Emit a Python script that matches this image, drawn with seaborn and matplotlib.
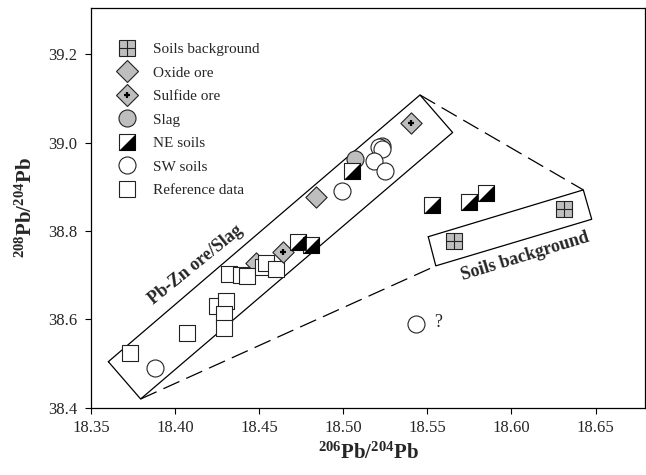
import numpy as np
import matplotlib
matplotlib.use('Agg')
import matplotlib.pyplot as plt
from matplotlib.lines import Line2D
from matplotlib.legend_handler import HandlerTuple
import seaborn as sns

# data
soil_bg_x = [18.566, 18.631]
soil_bg_y = [38.777, 38.850]

oxide_x = [18.484, 18.448]
oxide_y = [38.878, 38.728]

sulfide_x = [18.540, 18.464]
sulfide_y = [39.044, 38.752]

slag_x = [18.507, 18.523]
slag_y = [38.963, 38.992]

ne_x = [18.505, 18.473, 18.481, 18.553, 18.575, 18.585]
ne_y = [38.936, 38.774, 38.768, 38.859, 38.865, 38.885]

sw_x = [18.521, 18.523, 18.518, 18.525, 18.499, 18.388, 18.543]
sw_y = [38.990, 38.985, 38.959, 38.936, 38.890, 38.490, 38.589]

ref_x = [18.373, 18.407, 18.425, 18.430, 18.429, 18.429, 18.432, 18.439,
         18.443, 18.452, 18.454, 18.460]
ref_y = [38.524, 38.568, 38.631, 38.641, 38.612, 38.580, 38.702, 38.700,
         38.698, 38.719, 38.728, 38.713]

# outlines of the two fields
pbzn_box_x = [18.3603, 18.5456, 18.5650, 18.3795, 18.3603]
pbzn_box_y = [38.504, 39.108, 39.023, 38.4195, 38.504]
soil_box_x = [18.5505, 18.6427, 18.6477, 18.5550, 18.5505]
soil_box_y = [38.787, 38.893, 38.8265, 38.721, 38.787]
dash_top_x = [18.5456, 18.6427]
dash_top_y = [39.108, 38.893]
dash_bot_x = [18.3795, 18.5550]
dash_bot_y = [38.4195, 38.721]

xticks = [18.35, 18.40, 18.45, 18.50, 18.55, 18.60, 18.65]
yticks = [38.4, 38.6, 38.8, 39.0, 39.2]

sns.set_style('ticks')
plt.rcParams['font.family'] = ['Liberation Serif', 'DejaVu Serif']
plt.rcParams['mathtext.fontset'] = 'custom'
plt.rcParams['mathtext.rm'] = 'Liberation Serif'
plt.rcParams['mathtext.bf'] = 'Liberation Serif:bold'

GREY = '#bebebe'
EDGE = '#222222'
S_SQ = 117
S_CI = 150
tri = [(-1, -1), (1, -1), (1, 1)]
DASH = (0, (14, 6))

fig = plt.figure(figsize=(6.46, 4.75), dpi=100)
ax = fig.add_axes([0.1409, 0.1419, 0.8576, 0.8413])

ax.plot(pbzn_box_x, pbzn_box_y, color='black', lw=0.9, zorder=1)
ax.plot(soil_box_x, soil_box_y, color='black', lw=0.9, zorder=1)
ax.plot(dash_top_x, dash_top_y, color='black', lw=0.9, ls=DASH, zorder=1)
ax.plot(dash_bot_x, dash_bot_y, color='black', lw=0.9, ls=DASH, zorder=1)

sns.scatterplot(x=slag_x, y=slag_y, marker='o', s=S_CI, color=GREY,
                edgecolor=EDGE, linewidth=0.8, ax=ax, zorder=3, legend=False)
sns.scatterplot(x=oxide_x, y=oxide_y, marker='D', s=S_SQ, color=GREY,
                edgecolor=EDGE, linewidth=0.8, ax=ax, zorder=3, legend=False)
sns.scatterplot(x=ref_x, y=ref_y, marker='s', s=S_SQ, color='white',
                edgecolor=EDGE, linewidth=0.8, ax=ax, zorder=4, legend=False)
sns.scatterplot(x=sulfide_x, y=sulfide_y, marker='D', s=S_SQ, color=GREY,
                edgecolor=EDGE, linewidth=0.8, ax=ax, zorder=5, legend=False)
sns.scatterplot(x=sulfide_x, y=sulfide_y, marker='+', s=22, color='black',
                linewidth=1.6, ax=ax, zorder=6, legend=False)
sns.scatterplot(x=ne_x, y=ne_y, marker='s', s=S_SQ, color='white',
                edgecolor=EDGE, linewidth=0.8, ax=ax, zorder=5, legend=False)
sns.scatterplot(x=ne_x, y=ne_y, marker=tri, s=S_SQ, color='black',
                edgecolor='black', linewidth=0.5, ax=ax, zorder=6, legend=False)
sns.scatterplot(x=sw_x, y=sw_y, marker='o', s=S_CI, color='white',
                edgecolor=EDGE, linewidth=0.8, ax=ax, zorder=7, legend=False)
sns.scatterplot(x=soil_bg_x, y=soil_bg_y, marker='s', s=S_SQ, color=GREY,
                edgecolor=EDGE, linewidth=0.8, ax=ax, zorder=5, legend=False)
sns.scatterplot(x=soil_bg_x, y=soil_bg_y, marker='+', s=S_SQ, color=EDGE,
                linewidth=0.8, ax=ax, zorder=6, legend=False)

ax.text(18.4124, 38.723, 'Pb-Zn ore/Slag', rotation=39, fontsize=13,
        fontweight='bold', ha='center', va='center', rotation_mode='anchor')
ax.text(18.608, 38.742, 'Soils background', rotation=17, fontsize=13,
        fontweight='bold', ha='center', va='center', rotation_mode='anchor')
ax.text(18.5563, 38.592, '?', fontsize=13, ha='center', va='center')

ax.set_xlim(18.35, 18.6794)
ax.set_ylim(38.4, 39.305)
ax.set_xticks(xticks)
ax.set_xticklabels([f'{v:.2f}' for v in xticks])
ax.set_yticks(yticks)
ax.set_yticklabels([f'{v:.1f}' for v in yticks])
ax.tick_params(axis='both', labelsize=12, length=4.5, width=0.8, color='black')
ax.tick_params(axis='y', pad=5.5)
ax.tick_params(axis='x', pad=4.5)
for sp in ax.spines.values():
    sp.set_color('black')
    sp.set_linewidth(0.9)

ax.set_xlabel(r'$\mathbf{^{206}Pb/^{204}Pb}$', fontsize=15, labelpad=5)
ax.set_ylabel(r'$\mathbf{^{208}Pb/^{204}Pb}$', fontsize=15, labelpad=8)

def mk(marker, face, size, lw=0.8, edge=EDGE):
    return Line2D([], [], ls='none', marker=marker, markersize=size,
                  markerfacecolor=face, markeredgecolor=edge, markeredgewidth=lw)

sq = np.sqrt(S_SQ)
ci = np.sqrt(S_CI)
handles = [
    (mk('s', GREY, sq), mk('+', 'none', sq, edge=EDGE)),
    mk('D', GREY, sq),
    (mk('D', GREY, sq), mk('+', 'none', np.sqrt(22), lw=1.6, edge='black')),
    mk('o', GREY, ci),
    (mk('s', 'white', sq), mk(tri, 'black', sq, lw=0.5, edge='black')),
    mk('o', 'white', ci),
    mk('s', 'white', sq),
]
labels = ['Soils background', 'Oxide ore', 'Sulfide ore', 'Slag', 'NE soils',
          'SW soils', 'Reference data']
ax.legend(handles, labels, handler_map={tuple: HandlerTuple(ndivide=1, pad=0)},
          loc='upper left', bbox_to_anchor=(0.035, 0.929), frameon=False,
          fontsize=11, handlelength=1.4, handletextpad=1.0, labelspacing=0.64,
          borderpad=0.4, borderaxespad=0)

fig.savefig('out.png', dpi=100)
